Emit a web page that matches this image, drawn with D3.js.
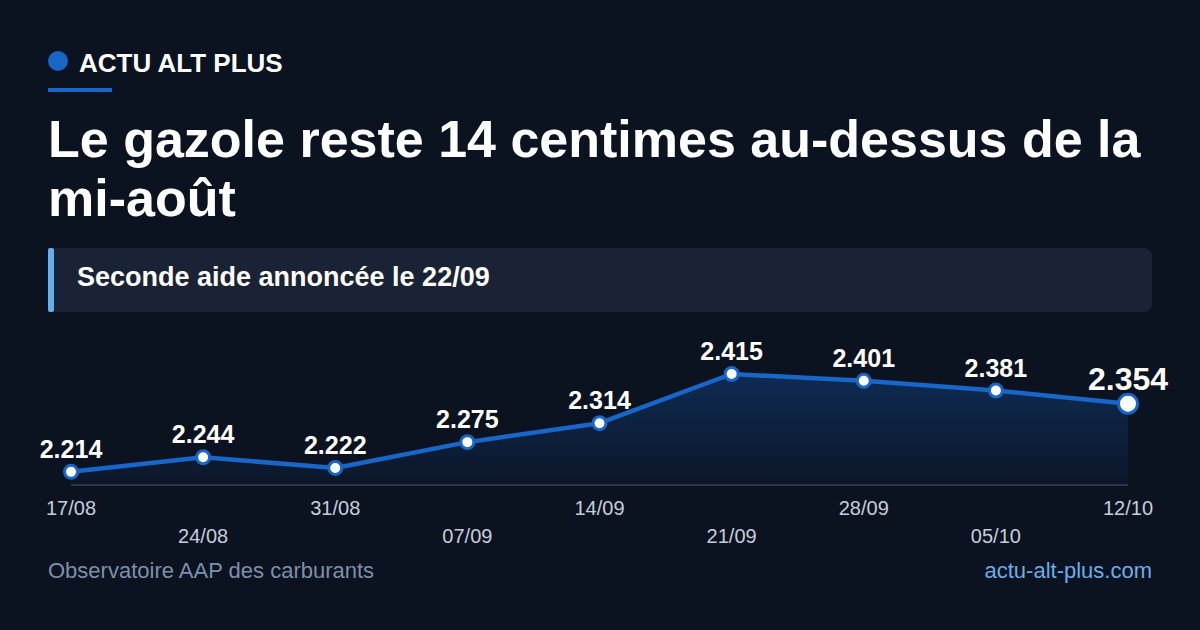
<!DOCTYPE html>
<html lang="fr">
<head>
<meta charset="UTF-8">
<title>Le gazole reste 14 centimes au-dessus de la mi-août</title>
<script src="https://d3js.org/d3.v7.min.js"></script>
<style>
  html, body { margin: 0; padding: 0; background: #0b1220; }
  svg { display: block; font-family: "Liberation Sans", Arial, sans-serif; }
</style>
</head>
<body>
<div id="chart"></div>
<script>
// data
const dates = ["17/08", "24/08", "31/08", "07/09", "14/09", "21/09", "28/09", "05/10", "12/10"];
const prices = [2.214, 2.244, 2.222, 2.275, 2.314, 2.415, 2.401, 2.381, 2.354];

const W = 1200, H = 630;
const blue = "#1766c8";

const svg = d3.select("#chart").append("svg")
    .attr("width", W).attr("height", H);

svg.append("rect").attr("width", W).attr("height", H).attr("fill", "#0b1220");

// header
svg.append("circle").attr("cx", 58).attr("cy", 61).attr("r", 10).attr("fill", blue);
svg.append("text").attr("x", 79).attr("y", 72)
    .attr("fill", "#fff").attr("font-size", 26).attr("font-weight", 700)
    .text("ACTU ALT PLUS");
svg.append("rect").attr("x", 48).attr("y", 88).attr("width", 64).attr("height", 4).attr("fill", blue);

const title = svg.append("text").attr("fill", "#fff").attr("font-size", 52).attr("font-weight", 700);
title.append("tspan").attr("x", 48).attr("y", 157).text("Le gazole reste 14 centimes au-dessus de la");
title.append("tspan").attr("x", 48).attr("y", 216).text("mi-août");

// subtitle box
svg.append("rect").attr("x", 48).attr("y", 248).attr("width", 1104).attr("height", 64)
    .attr("rx", 8).attr("fill", "#1a2336");
svg.append("rect").attr("x", 48).attr("y", 248).attr("width", 6).attr("height", 64)
    .attr("rx", 2).attr("fill", "#6aaee8");
svg.append("text").attr("x", 77).attr("y", 286)
    .attr("fill", "#fff").attr("font-size", 27).attr("font-weight", 700)
    .text("Seconde aide annoncée le 22/09");

// scales
const x = d3.scalePoint().domain(dates).range([71, 1128]);
const y = d3.scaleLinear().domain([2.187, 2.415]).range([485, 374]);
const base = y.range()[0];

const data = dates.map((d, i) => ({ date: d, value: prices[i] }));

const defs = svg.append("defs");
const grad = defs.append("linearGradient").attr("id", "area-grad")
    .attr("x1", 0).attr("y1", 0).attr("x2", 0).attr("y2", 1);
grad.append("stop").attr("offset", "0%").attr("stop-color", blue).attr("stop-opacity", 0.3);
grad.append("stop").attr("offset", "100%").attr("stop-color", blue).attr("stop-opacity", 0.05);

svg.append("path").datum(data)
    .attr("fill", "url(#area-grad)")
    .attr("d", d3.area().x(d => x(d.date)).y0(base).y1(d => y(d.value)));

svg.append("line")
    .attr("x1", x(dates[0])).attr("x2", x(dates[dates.length - 1]))
    .attr("y1", base).attr("y2", base)
    .attr("stroke", "#2b3547").attr("stroke-width", 2);

svg.append("path").datum(data)
    .attr("fill", "none").attr("stroke", blue).attr("stroke-width", 4.5)
    .attr("stroke-linejoin", "round")
    .attr("d", d3.line().x(d => x(d.date)).y(d => y(d.value)));

const last = data.length - 1;

svg.selectAll(".pt").data(data).enter().append("circle")
    .attr("cx", d => x(d.date)).attr("cy", d => y(d.value))
    .attr("r", (d, i) => i === last ? 9.5 : 6.5)
    .attr("fill", "#fff").attr("stroke", blue).attr("stroke-width", 3);

svg.selectAll(".val").data(data).enter().append("text")
    .attr("x", d => x(d.date))
    .attr("y", d => y(d.value) - 14)
    .attr("text-anchor", "middle")
    .attr("fill", "#fff").attr("font-weight", 700)
    .attr("font-size", (d, i) => i === last ? 32 : 25)
    .text(d => d.value.toFixed(3));

// x axis labels, alternating rows
svg.selectAll(".xl").data(dates).enter().append("text")
    .attr("x", d => x(d))
    .attr("y", (d, i) => i % 2 === 0 ? 515 : 543)
    .attr("text-anchor", "middle")
    .attr("fill", "#c5cedb").attr("font-size", 20)
    .text(d => d);

// footer
svg.append("text").attr("x", 48).attr("y", 578)
    .attr("fill", "#7d90aa").attr("font-size", 22)
    .text("Observatoire AAP des carburants");
svg.append("text").attr("x", 1152).attr("y", 578).attr("text-anchor", "end")
    .attr("fill", "#6aaee8").attr("font-size", 22)
    .text("actu-alt-plus.com");
</script>
</body>
</html>
